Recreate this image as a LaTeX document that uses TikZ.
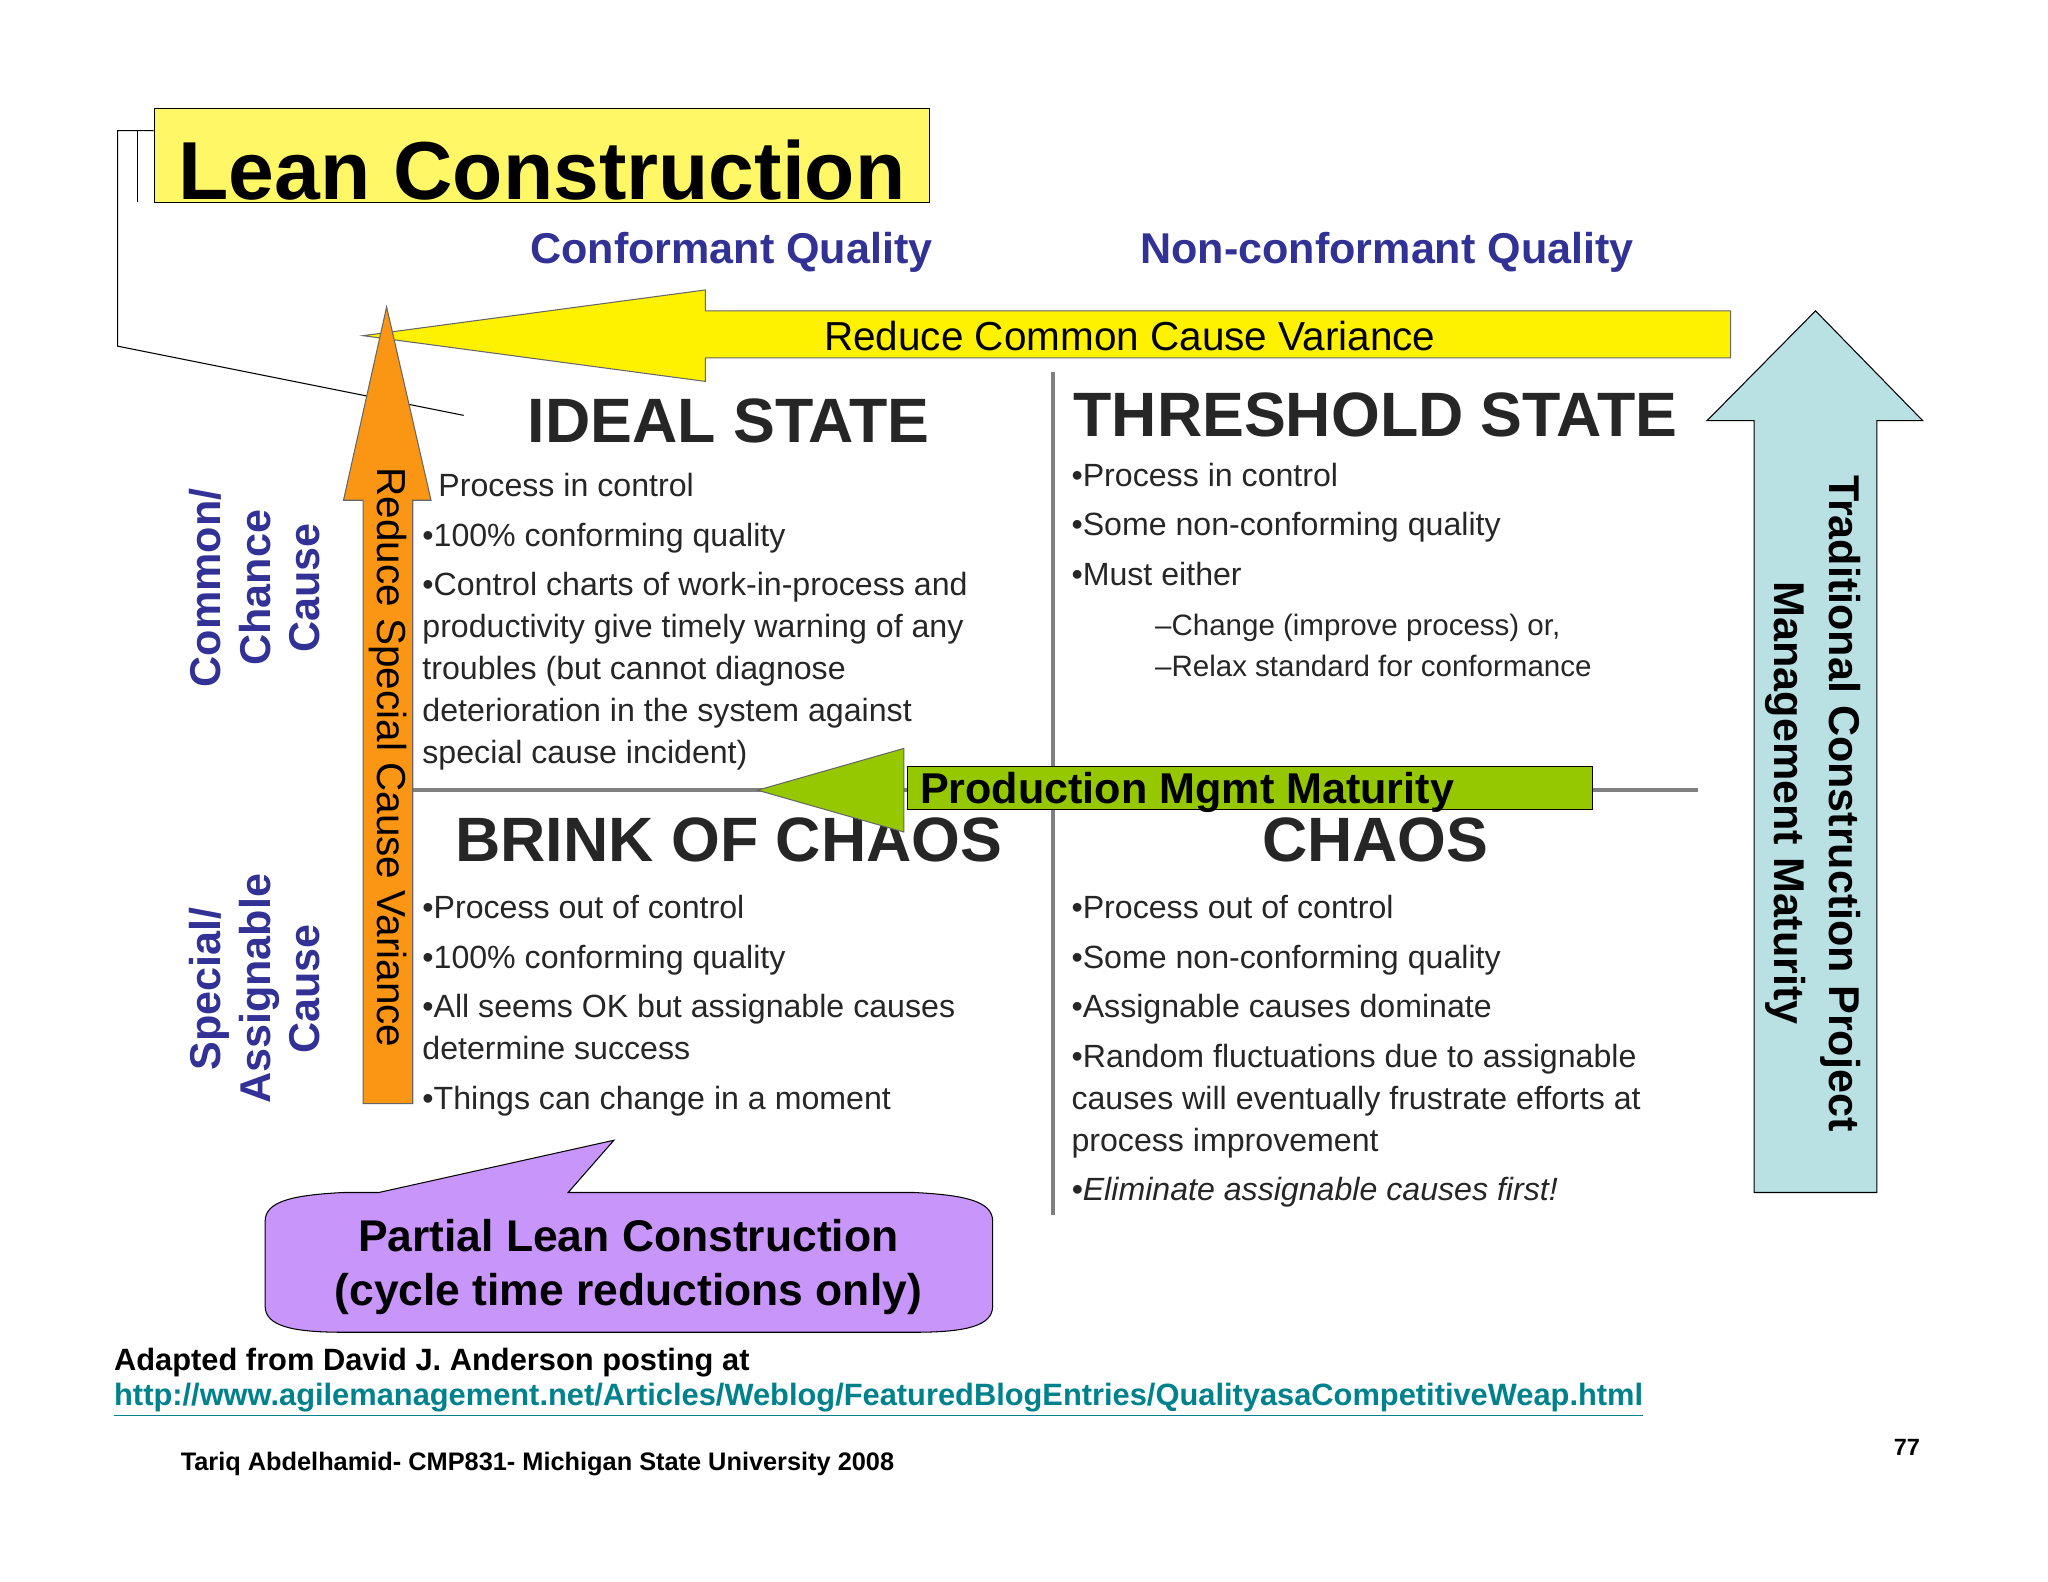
\documentclass[tikz,border=0pt]{standalone}
\usepackage{fontspec}
\setmainfont{Liberation Sans}
\begin{document}
\begin{tikzpicture}[x=0.5pt,y=-0.5pt,
  fs/.style={font=\fontsize{#1}{18}\selectfont},
  blue label/.style={text=qblue,font=\fontsize{16.5}{19}\selectfont\bfseries,align=center},
  head/.style={font=\fontsize{24}{28}\selectfont\bfseries,text=black!85},
  body/.style={font=\fontsize{12.3}{16}\selectfont,text=black!85,align=left,anchor=north west,inner sep=0pt},
  ]
\definecolor{qblue}{RGB}{50,50,150}
\definecolor{ored}{RGB}{250,150,20}
\definecolor{lgreen}{RGB}{150,200,0}
\definecolor{lblue}{RGB}{185,225,228}
\definecolor{lpurple}{RGB}{200,150,250}
\definecolor{teal}{RGB}{0,130,140}
\useasboundingbox (0,0) rectangle (1568,1211);
\fill[white] (0,0) rectangle (1568,1211);
% title
\node[draw=black,fill=yellow!60,minimum width=297pt,minimum height=36pt,inner sep=0pt] (title) at (415,119) {};
\node[font=\fontsize{31.5}{34}\selectfont\bfseries] (tt) at (415,130) {Lean Construction};
\coordinate (b1) at (355,318);
\draw (title.west|-0,100) -- (90,100) -- (90,265) -- (b1);
\draw (105,100) -- (105,155);
% column labels
\node[blue label] (cq) at (560,193) {Conformant Quality};
\node[blue label] (nq) at (1062,193) {Non-conformant Quality};
% quadrant lines
\draw[gray,line width=1.5pt] (806,285) -- (806,930);
\draw[gray,line width=1.5pt] (316,605) -- (1300,605);
% yellow arrow
\draw[black!60,fill=yellow] (278,257) -- (540,222) -- (540,238) -- (1325,238) -- (1325,274) -- (540,274) -- (540,292) -- cycle;
\node[fs=15.5] (yt) at (865,257) {Reduce Common Cause Variance};
% orange arrow
\draw[black!60,fill=ored] (296,235) -- (330,383) -- (316,383) -- (316,845) -- (278,845) -- (278,383) -- (263,383) -- cycle;
\node[fs=15.5,rotate=-90] (ot) at (297,580) {Reduce Special Cause Variance};
% side labels
\node[blue label,rotate=90] (cc) at (195,450) {Common/\\Chance\\Cause};
\node[blue label,rotate=90] (sa) at (195,757) {Special/\\Assignable\\Cause};
% headings
\node[head] (ideal) at (558,322) {IDEAL STATE};
\node[head] (thr) at (1053,318) {THRESHOLD STATE};
\node[head] (brink) at (558,643) {BRINK OF CHAOS};
\node[head] (chaos) at (1053,643) {CHAOS};
% bodies
\node[body] (t1) at (323,362) {\,\,\,Process in control\\[3pt]•100\% conforming quality\\[3pt]•Control charts of work-in-process and\\productivity give timely warning of any\\troubles (but cannot diagnose\\deterioration in the system against\\special cause incident)};
\node[body] (t2) at (820,354) {•Process in control\\[3pt]•Some non-conforming quality\\[3pt]•Must either\\[3pt]
\hspace*{32pt}{\fontsize{11.3}{15}\selectfont –Change (improve process) or,}\\
\hspace*{32pt}{\fontsize{11.3}{15}\selectfont –Relax standard for conformance}};
\node[body] (t3) at (323,685) {•Process out of control\\[3pt]•100\% conforming quality\\[3pt]•All seems OK but assignable causes\\determine success\\[3pt]•Things can change in a moment};
\node[body] (t4) at (820,685) {•Process out of control\\[3pt]•Some non-conforming quality\\[3pt]•Assignable causes dominate\\[3pt]•Random fluctuations due to assignable\\causes will eventually frustrate efforts at\\process improvement\\[3pt]\textit{•Eliminate assignable causes first!}};
% green arrow
\draw[black!60,fill=lgreen] (580,605) -- (692,573) -- (692,637) -- cycle;
\node[draw=black,fill=lgreen,minimum width=262.5pt,minimum height=16.5pt,inner sep=0pt] (gt) at (957,603) {};
\node[anchor=west,font=\fontsize{16.5}{19}\selectfont\bfseries,inner sep=0pt] (gtt) at (704,607) {Production Mgmt Maturity};
% light blue arrow
\draw[black,fill=lblue] (1390,238) -- (1472,322) -- (1437,322) -- (1437,913) -- (1343,913) -- (1343,322) -- (1307,322) -- cycle;
\node[rotate=-90,align=center,font=\fontsize{16.5}{21}\selectfont\bfseries] (bt) at (1388,615) {Traditional Construction Project\\Management Maturity};
% callout
\draw[black,fill=lpurple] (290,913) -- (470,873) -- (435,913) -- (700,913) .. controls (740,915) and (760,920) .. (760,935) -- (760,1000) .. controls (760,1015) and (740,1020) .. (700,1020) -- (263,1020) .. controls (223,1020) and (203,1015) .. (203,1000) -- (203,935) .. controls (203,920) and (223,915) .. (263,913) -- cycle;
\node[align=center,font=\fontsize{17}{21}\selectfont\bfseries] (ct) at (481,970) {Partial Lean Construction\\(cycle time reductions only)};
% footer
\node[anchor=west,inner sep=0pt,font=\fontsize{11.8}{13}\selectfont\bfseries] (f1) at (87,1043) {Adapted from David J. Anderson posting at};
\node[anchor=west,inner sep=0pt,text=teal,font=\fontsize{11.8}{13}\selectfont\bfseries] (f2) at (87,1072) {\underline{http://www.agilemanagement.net/Articles/Weblog/FeaturedBlogEntries/QualityasaCompetitiveWeap.html}};
\node[anchor=west,inner sep=0pt,font=\fontsize{9.7}{11}\selectfont\bfseries] (f3) at (138,1121) {Tariq Abdelhamid- CMP831- Michigan State University 2008};
\node[inner sep=0pt,font=\fontsize{9}{11}\selectfont\bfseries] (f4) at (1460,1108) {77};
\end{tikzpicture}
\end{document}
